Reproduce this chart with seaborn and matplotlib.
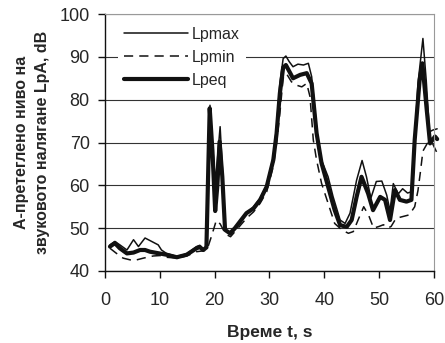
import numpy as np
import pandas as pd
import matplotlib
matplotlib.use("Agg")
import matplotlib.pyplot as plt
import seaborn as sns

# Данни (отчетени от графиката)
t_max = [0.9, 1.8, 2.7, 4.0, 5.2, 6.1, 7.3, 8.5, 9.7, 10.3, 11.2, 13.1, 14.9, 16.7, 17.3,
         17.9, 18.5, 19.15, 19.6, 20.1, 20.5, 21.0, 21.5, 21.9, 22.9, 24.6, 25.8, 27.1,
         28.3, 29.5, 30.7, 31.3, 31.9, 32.5, 33.0, 33.6, 34.3, 35.2, 36.2, 37.1, 37.7,
         38.3, 38.9, 39.5, 40.7, 41.6, 42.9, 43.8, 44.7, 45.9, 46.9, 47.7, 48.5, 49.5,
         50.5, 51.4, 52.0, 52.6, 53.5, 54.3, 55.2, 55.9, 56.5, 57.1, 58.0, 58.6, 59.2,
         59.8, 60.6]
lp_max = [46.1, 46.9, 46.1, 44.9, 47.3, 45.7, 47.7, 46.9, 46.1, 44.9, 44.1, 43.4, 44.0,
          45.7, 46.0, 44.9, 46.0, 78.7, 70.0, 61.0, 66.0, 73.7, 62.0, 49.6, 48.4, 51.1,
          53.5, 55.0, 57.0, 60.1, 66.7, 73.7, 83.8, 89.6, 90.2, 88.9, 87.7, 88.3, 88.1,
          88.5, 85.4, 77.6, 69.0, 65.9, 62.0, 57.4, 51.9, 51.1, 53.5, 61.2, 65.8, 62.0,
          57.0, 60.9, 61.0, 57.7, 54.0, 60.4, 58.0, 59.2, 58.2, 58.5, 70.6, 83.8, 94.3,
          84.6, 72.5, 72.9, 73.2]

t_min = [0.9, 2.1, 3.3, 5.2, 7.0, 8.8, 10.0, 11.2, 13.1, 14.9, 16.7, 17.9, 18.6, 19.5,
         20.3, 21.0, 22.0, 22.9, 24.0, 25.8, 27.1, 28.3, 29.5, 30.7, 31.3, 31.9, 32.5,
         33.1, 34.0, 34.9, 35.9, 36.8, 37.4, 38.0, 38.6, 39.5, 40.7, 41.9, 43.2, 44.4,
         45.3, 46.2, 47.2, 48.1, 49.0, 50.0, 50.8, 51.6, 52.2, 53.1, 54.3, 55.5, 56.5,
         57.1, 57.5, 58.0, 58.8, 59.6, 60.6]
lp_min = [45.3, 44.1, 43.0, 42.4, 43.0, 43.5, 43.6, 43.2, 43.0, 43.5, 44.5, 44.7, 44.9,
          48.4, 51.8, 51.0, 48.6, 48.0, 49.6, 52.3, 53.8, 55.8, 58.5, 64.4, 69.8, 76.8,
          85.0, 86.1, 84.2, 83.4, 83.0, 83.8, 80.7, 70.6, 65.9, 60.5, 55.8, 51.1, 49.6,
          48.8, 49.2, 52.0, 55.0, 53.0, 50.0, 50.4, 50.8, 50.0, 50.4, 52.3, 52.7, 53.1,
          55.0, 58.8, 62.7, 68.0, 69.8, 70.2, 67.5]

t_eq = [0.9, 1.8, 2.7, 4.0, 5.2, 6.4, 7.3, 8.2, 9.9, 11.2, 13.1, 14.9, 16.7, 17.3, 17.9,
        18.5, 19.1, 19.6, 20.1, 20.5, 20.9, 21.4, 21.9, 22.8, 23.7, 24.6, 25.8, 27.1,
        28.3, 29.5, 30.7, 31.3, 31.9, 32.5, 33.0, 34.3, 35.6, 36.8, 37.7, 38.6, 39.5,
        40.7, 41.9, 42.9, 44.1, 45.0, 45.9, 46.8, 48.0, 48.9, 50.2, 51.1, 52.0, 52.9,
        53.8, 55.0, 55.9, 56.5, 57.4, 57.9, 58.7, 59.3, 60.2, 60.6]
lp_eq = [45.7, 46.5, 45.3, 44.1, 44.3, 44.9, 44.9, 44.5, 44.1, 43.8, 43.2, 43.8, 45.3,
         45.6, 44.9, 45.5, 78.0, 68.0, 54.0, 60.0, 70.2, 62.0, 49.6, 48.8, 50.0, 51.5,
         53.5, 54.6, 56.6, 59.7, 65.9, 72.1, 81.5, 87.5, 88.1, 85.0, 85.8, 86.2, 83.8,
         72.2, 65.2, 59.7, 54.2, 50.7, 50.3, 51.9, 57.3, 62.0, 58.1, 54.2, 57.3, 56.6,
         51.9, 58.9, 56.6, 56.2, 56.6, 70.6, 84.6, 88.5, 77.6, 69.8, 71.4, 70.8]

x_ticks = [0, 10, 20, 30, 40, 50, 60]
y_ticks = [40, 50, 60, 70, 80, 90, 100]

sns.set_style("white")
plt.rcParams['font.family'] = ['Liberation Sans', 'DejaVu Sans']

fig = plt.figure(figsize=(4.45, 3.43), dpi=100)
ax = fig.add_axes([0.236, 0.21, 0.739, 0.749])

black = '#111111'
sns.lineplot(x=t_max, y=lp_max, ax=ax, color=black, lw=1.1, label='Lpmax',
             estimator=None, sort=False)
sns.lineplot(x=t_min, y=lp_min, ax=ax, color=black, lw=1.1, label='Lpmin',
             estimator=None, sort=False, dashes=False, linestyle=(0, (6, 4)))
sns.lineplot(x=t_eq, y=lp_eq, ax=ax, color=black, lw=3.0, label='Lpeq',
             estimator=None, sort=False)
for line in ax.lines:
    line.set_clip_on(False)

ax.set_xlim(0, 60)
ax.set_ylim(40, 100)
ax.set_xticks(x_ticks)
ax.set_yticks(y_ticks)
ax.yaxis.grid(True, color='#333333', lw=0.8)
ax.set_axisbelow(True)

for side in ['top', 'right']:
    ax.spines[side].set_color('#999999')
for side in ['left', 'bottom']:
    ax.spines[side].set_color(black)
    ax.spines[side].set_linewidth(1.0)

ax.tick_params(axis='x', labelsize=13, length=5, width=1, direction='out',
               color=black, bottom=True, pad=10)
ax.tick_params(axis='y', labelsize=13, length=5, width=1, direction='out',
               color=black, left=True, pad=6)

ax.set_xlabel('Време t, s', fontsize=12.5, fontweight='bold', labelpad=12)
ax.set_ylabel('А-претеглено ниво на\nзвуковото налягане LpA, dB', fontsize=11.5,
              fontweight='bold', labelpad=7, linespacing=1.45)

leg = ax.legend(loc='upper left', bbox_to_anchor=(0.038, 0.975), fontsize=11.5,
                frameon=True, handlelength=4.0, handletextpad=0.25,
                borderaxespad=0.0, labelspacing=0.5)
leg.get_frame().set_facecolor('white')
leg.get_frame().set_edgecolor('none')
leg.get_frame().set_alpha(1.0)

fig.savefig('out.png', dpi=100)
